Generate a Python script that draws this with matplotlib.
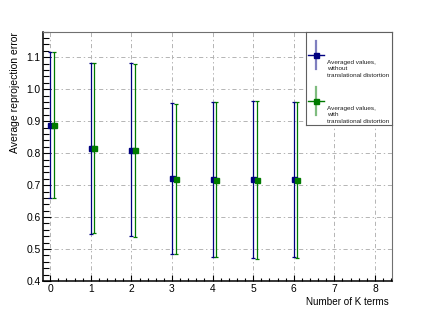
import matplotlib
matplotlib.use("Agg")
import matplotlib.pyplot as plt
from matplotlib.ticker import MultipleLocator
import numpy as np

# Data
k_terms = [0, 1, 2, 3, 4, 5, 6]
mean_without = [0.889, 0.816, 0.811, 0.721, 0.719, 0.718, 0.718]
err_without = [0.229, 0.2675, 0.270, 0.236, 0.2425, 0.245, 0.242]
mean_with = [0.887, 0.816, 0.809, 0.720, 0.717, 0.716, 0.716]
err_with = [0.2285, 0.2665, 0.270, 0.235, 0.242, 0.247, 0.245]
x_shift = 0.09  # second series drawn slightly to the right

label_without = "Averaged values,\nwithout\ntranslational distortion"
label_with = "Averaged values,\nwith\ntranslational distortion"

navy = "#000080"
green = "#007a00"

plt.rcParams['font.family'] = ['Liberation Sans', 'DejaVu Sans']
plt.rcParams['lines.scale_dashes'] = False

fig = plt.figure(figsize=(4.36, 3.13), dpi=100)
ax = fig.add_axes([43.3 / 436, 1 - 281 / 313, (392 - 43.3) / 436, (281 - 31.7) / 313])

x_without = np.array(k_terms, dtype=float)
x_with = x_without + x_shift

ax.errorbar(x_without, mean_without, yerr=err_without, fmt='s', color=navy,
            ms=3.6, elinewidth=0.9, capsize=1.2, capthick=0.9, zorder=3)
ax.errorbar(x_with, mean_with, yerr=err_with, fmt='s', color=green,
            ms=3.6, elinewidth=0.9, capsize=1.2, capthick=0.9, zorder=3)

ax.set_xlim(-0.17, 8.42)
ax.set_ylim(0.4, 1.18)

ax.xaxis.set_major_locator(MultipleLocator(1))
ax.xaxis.set_minor_locator(MultipleLocator(0.2))
ax.yaxis.set_major_locator(MultipleLocator(0.1))
ax.yaxis.set_minor_locator(MultipleLocator(0.02))
ax.set_yticks(np.round(np.arange(0.4, 1.11, 0.1), 1))

ax.tick_params(axis='both', which='both', direction='in', top=False, right=False,
               labelsize=7.4, width=0.8, color='black')
ax.tick_params(axis='y', which='major', length=6, pad=2)
ax.tick_params(axis='y', which='minor', length=4)
ax.tick_params(axis='x', which='major', length=4.5, pad=2.5)
ax.tick_params(axis='x', which='minor', length=2.2)

ax.grid(True, which='major', color='#b4b4b4', linewidth=0.7,
        linestyle=(0, (3, 2, 1, 2)), zorder=0)
ax.set_axisbelow(True)

for side in ['left', 'bottom']:
    ax.spines[side].set_color('black')
    ax.spines[side].set_linewidth(1.1)
for side in ['top', 'right']:
    ax.spines[side].set_color('#707070')
    ax.spines[side].set_linewidth(0.8)

ax.set_ylabel("Average reprojection error", fontsize=7.5, loc='top')
ax.yaxis.set_label_coords(-0.067, 1.0)
ax.set_xlabel("Number of K terms", fontsize=7.1, loc='right')
ax.xaxis.set_label_coords(0.992, -0.063)

# Legend box drawn by hand, ROOT style
lax = fig.add_axes([305.5 / 436, 1 - 124.5 / 313, (392 - 305.5) / 436, (124.5 - 32) / 313])
lax.set_xlim(305.5, 392)
lax.set_ylim(124.5, 32)
lax.set_xticks([])
lax.set_yticks([])
lax.patch.set_facecolor('white')
for side in lax.spines:
    lax.spines[side].set_color('#606060')
    lax.spines[side].set_linewidth(0.8)

entries = [(navy, label_without, 54.5), (green, label_with, 100.5)]
for color, text, yc in entries:
    lax.plot([315.5, 315.5], [yc - 14, yc + 14], color=color, lw=1.6, alpha=0.5)
    lax.plot([308, 323.5], [yc, yc], color=color, lw=1.0)
    lax.plot([315.5], [yc], 's', color=color, ms=3.6)
    lax.text(327, yc + 5.5, text, fontsize=4.6, color='#202020', va='top',
             ha='left', linespacing=1.35)

fig.savefig("out.png", dpi=100)
